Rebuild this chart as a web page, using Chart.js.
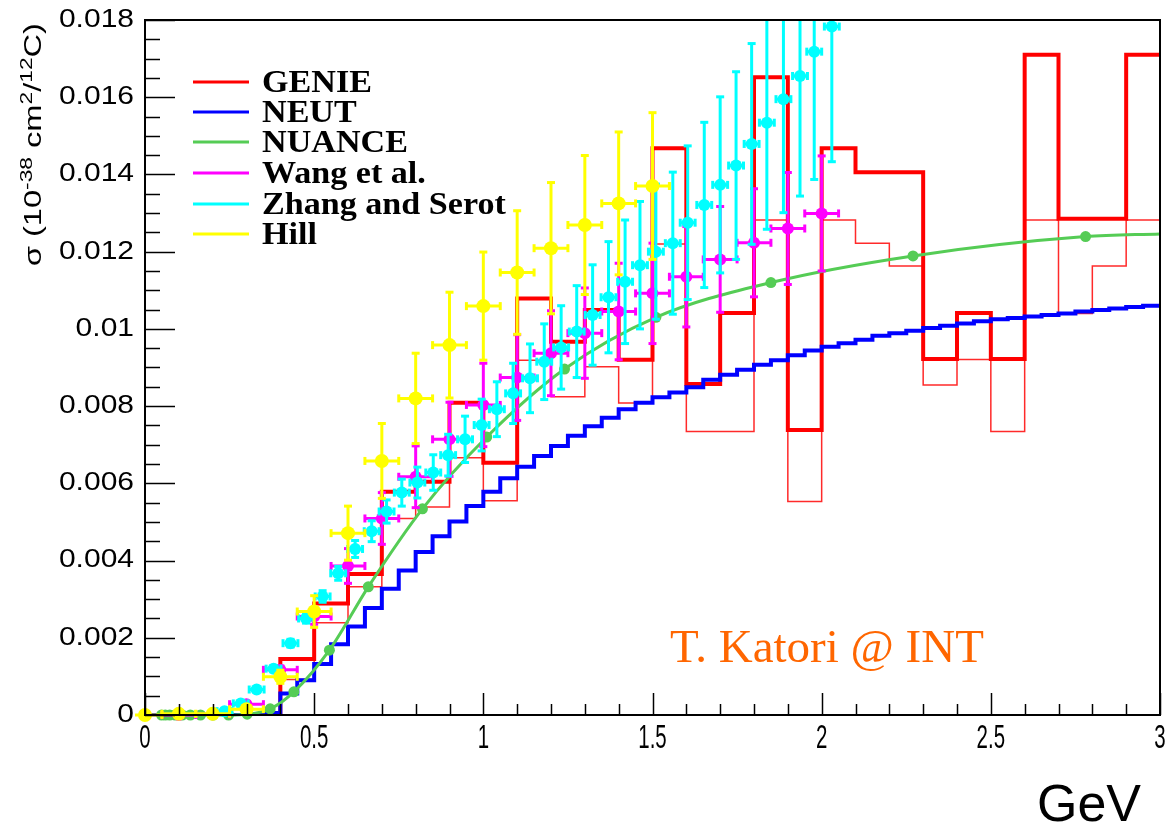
<!DOCTYPE html>
<html>
<head>
<meta charset="utf-8">
<script src="https://cdn.jsdelivr.net/npm/chart.js@4.4.1/dist/chart.umd.min.js"></script>
<style>
  html, body { margin: 0; padding: 0; background: #fff; }
  canvas { display: block; }
</style>
</head>
<body>
<canvas id="xsec" width="1170" height="829"></canvas>
<script>
// Cross sections are listed in units of 0.001 x 10^-38 cm^2 per 12C; energies in GeV.

// GENIE histograms, 0.1 GeV bins (thick and thin versions)
const genieEdges = [0,0.1,0.2,0.3,0.4,0.5,0.6,0.7,0.8,0.9,1.0,1.1,1.2,1.3,1.4,1.5,
                    1.6,1.7,1.8,1.9,2.0,2.1,2.2,2.3,2.4,2.5,2.6,2.7,2.8,2.9,3.0];
const genieThick = [0,0,0,0,1.45,2.89,3.65,5.78,6.04,8.09,6.53,10.79,9.67,10.49,9.2,14.68,
                    8.57,10.41,16.52,7.38,14.68,14.06,14.06,9.22,10.41,9.22,17.1,12.85,12.85,17.1];
const genieThin  = [0,0,0,0,0.92,2.39,3.32,5.09,5.39,6.66,5.55,9.19,8.24,9.02,8.08,12.2,
                    7.34,7.34,12.82,5.53,12.82,12.22,11.63,8.55,9.21,7.34,12.82,10.4,11.63,12.82];

// NEUT histogram, 0.05 GeV bins
const neutEdges = [0,0.05,0.1,0.15,0.2,0.25,0.3,0.35,0.4,0.45,0.5,0.55,0.6,0.65,0.7,0.75,
                   0.8,0.85,0.9,0.95,1.0,1.05,1.1,1.15,1.2,1.25,1.3,1.35,1.4,1.45,1.5,1.55,
                   1.6,1.65,1.7,1.75,1.8,1.85,1.9,1.95,2.0,2.05,2.1,2.15,2.2,2.25,2.3,2.35,
                   2.4,2.45,2.5,2.55,2.6,2.65,2.7,2.75,2.8,2.85,2.9,2.95,3.0];
const neutSigma = [0,0,0,0,0,0,0,0.05,0.56,0.9,1.32,1.83,2.29,2.77,3.27,3.74,
                   4.22,4.63,5.01,5.41,5.78,6.13,6.43,6.71,6.97,7.23,7.48,7.70,7.92,8.09,8.23,8.35,
                   8.49,8.68,8.81,8.94,9.07,9.19,9.32,9.44,9.54,9.63,9.72,9.82,9.89,9.95,10.02,10.08,
                   10.14,10.20,10.25,10.28,10.32,10.36,10.40,10.45,10.49,10.53,10.57,10.60];

// NUANCE curve (markers on all points but the last)
const nuanceE     = [0.049,0.06,0.073,0.089,0.11,0.134,0.164,0.201,0.247,0.302,0.37,0.44,
                     0.545,0.66,0.82,1.01,1.24,1.51,1.85,2.27,2.78,3.0];
const nuanceSigma = [0,0,0,0,0,0,0,0,0,0.02,0.16,0.6,1.68,3.32,5.34,7.2,8.96,10.3,11.2,11.89,12.39,12.46];

// Wang et al.
const wangE     = [0.1,0.2,0.3,0.4,0.5,0.6,0.7,0.8,0.9,1.0,1.1,1.2,1.3,1.4,1.5,1.6,1.7,1.8,1.9,2.0];
const wangSigma = [0,0.02,0.28,1.17,2.55,3.86,5.09,6.17,7.14,8.03,8.74,9.37,9.89,10.45,10.92,11.35,11.8,12.23,12.6,12.99];
const wangErr   = [0,0,0.05,0.1,0.2,0.45,0.67,0.8,0.96,1.08,1.11,1.1,1.17,1.25,1.3,1.3,1.37,1.4,1.45,1.49];
const wangEErr  = 0.05;

// Zhang and Serot
const zhangE     = [0.235,0.283,0.33,0.38,0.43,0.476,0.525,0.571,0.621,0.67,0.714,0.759,0.805,0.852,0.896,
                    0.946,0.995,1.04,1.088,1.138,1.18,1.23,1.276,1.323,1.37,1.419,1.463,1.51,1.56,1.604,
                    1.653,1.70,1.747,1.793,1.838,1.887,1.936,1.978,2.03];
const zhangSigma = [0.1,0.3,0.66,1.2,1.86,2.5,3.07,3.67,4.3,4.76,5.27,5.76,6.02,6.28,6.73,
                    7.14,7.51,7.92,8.33,8.72,9.15,9.52,9.93,10.36,10.82,11.22,11.65,12.0,12.22,12.75,
                    13.21,13.73,14.23,14.79,15.34,15.95,16.55,17.18,17.83];
const zhangErr   = [0.02,0.04,0.06,0.08,0.1,0.12,0.15,0.18,0.22,0.27,0.3,0.35,0.4,0.46,0.54,
                    0.6,0.67,0.71,0.78,0.89,0.98,1.08,1.19,1.3,1.44,1.6,1.65,1.75,1.84,1.99,
                    2.14,2.28,2.43,2.6,2.76,2.94,3.11,3.31,3.5];
const zhangEErr  = 0.022;

// Hill
const hillE     = [0,0.1,0.2,0.3,0.4,0.5,0.6,0.7,0.8,0.9,1.0,1.1,1.2,1.3,1.4,1.5];
const hillSigma = [0,0.03,0.03,0.15,0.99,2.68,4.71,6.58,8.2,9.58,10.59,11.46,12.09,12.69,13.25,13.7];
const hillErr   = [0.02,0.02,0.03,0.06,0.17,0.41,0.7,0.97,1.17,1.37,1.4,1.6,1.7,1.8,1.85,1.9];
const hillEErr  = 0.05;

// axis ranges and tick spacing
const xRange = [0, 3], xMajor = 0.5, xMinor = 0.1;
const yRange = [0, 0.018], yMajor = 0.002, yMinor = 0.0005;

const UNIT = 1e-3;

// ---- helpers ----
function histPoints(edges, vals) {
  const pts = vals.map((v, i) => ({ x: edges[i], y: v * UNIT }));
  pts.push({ x: edges[edges.length - 1], y: vals[vals.length - 1] * UNIT });
  return pts;
}
function points(es, vals) {
  return es.map((e, i) => ({ x: e, y: vals[i] * UNIT }));
}
function fmt(v) {
  return String(Number(v.toFixed(4)));
}

const SANS = '"Liberation Sans", Arial, Helvetica, sans-serif';
const SERIF = '"Liberation Serif", "Times New Roman", serif';

// error bars drawn just beneath each dataset's markers
const errorBars = {
  id: 'errorBars',
  beforeDatasetDraw(chart, args) {
    const ds = chart.data.datasets[args.index];
    if (!ds.errorBars) return;
    const { ctx, chartArea: a, scales: { x, y } } = chart;
    ctx.save();
    ctx.beginPath();
    ctx.rect(a.left - 10, a.top, a.right - a.left + 20, a.bottom - a.top + 12);
    ctx.clip();
    ctx.strokeStyle = ds.backgroundColor;
    ctx.lineWidth = 3;
    ctx.lineCap = 'butt';
    const cap = 4;
    const seg = (x0, y0, x1, y1) => { ctx.beginPath(); ctx.moveTo(x0, y0); ctx.lineTo(x1, y1); ctx.stroke(); };
    ds.data.forEach((p, i) => {
      const px = x.getPixelForValue(p.x), py = y.getPixelForValue(p.y);
      const ey = ds.errorBars.y[i] * UNIT, ex = ds.errorBars.x;
      if (ey > 0) {
        const yTop = y.getPixelForValue(p.y + ey), yBot = y.getPixelForValue(p.y - ey);
        seg(px, yBot, px, yTop);
        seg(px - cap, yTop, px + cap, yTop);
        seg(px - cap, yBot, px + cap, yBot);
      }
      if (ex > 0) {
        const xL = x.getPixelForValue(p.x - ex), xR = x.getPixelForValue(p.x + ex);
        seg(xL, py, xR, py);
        seg(xL, py - cap, xL, py + cap);
        seg(xR, py - cap, xR, py + cap);
      }
    });
    ctx.restore();
  }
};

// frame, inward ticks, tick labels, axis titles, legend and note
const decorations = {
  id: 'decorations',
  afterDatasetsDraw(chart) {
    const { ctx, chartArea: a, scales: { x, y } } = chart;
    ctx.save();
    // frame
    ctx.strokeStyle = '#000';
    ctx.lineWidth = 2;
    ctx.strokeRect(a.left, a.top, a.right - a.left, a.bottom - a.top);

    // y ticks
    ctx.lineWidth = 1.5;
    const nY = Math.round((yRange[1] - yRange[0]) / yMinor);
    for (let k = 0; k <= nY; k++) {
      const v = yRange[0] + k * yMinor;
      const py = Math.round(y.getPixelForValue(v)) + 0.5;
      const len = (k % Math.round(yMajor / yMinor) === 0) ? 30 : 15;
      ctx.beginPath(); ctx.moveTo(a.left, py); ctx.lineTo(a.left + len, py); ctx.stroke();
    }
    // x ticks
    const nX = Math.round((xRange[1] - xRange[0]) / xMinor);
    for (let k = 0; k <= nX; k++) {
      const v = xRange[0] + k * xMinor;
      const px = Math.round(x.getPixelForValue(v)) + 0.5;
      const len = (k % Math.round(xMajor / xMinor) === 0) ? 22 : 11;
      ctx.beginPath(); ctx.moveTo(px, a.bottom); ctx.lineTo(px, a.bottom - len); ctx.stroke();
    }

    // tick labels
    ctx.fillStyle = '#000';
    ctx.textBaseline = 'middle';
    ctx.textAlign = 'right';
    y.ticks.forEach(t => {
      const py = y.getPixelForValue(t.value);
      ctx.save();
      ctx.translate(a.left - 11, py);
      ctx.scale(1.2, 1);
      ctx.font = '25px ' + SANS;
      ctx.fillText(fmt(t.value), 0, 0);
      ctx.restore();
    });
    ctx.textAlign = 'center';
    ctx.textBaseline = 'alphabetic';
    x.ticks.forEach(t => {
      const px = x.getPixelForValue(t.value);
      ctx.save();
      ctx.translate(px, a.bottom + 33);
      ctx.scale(0.62, 1);
      ctx.font = '33px ' + SANS;
      ctx.fillText(fmt(t.value), 0, 0);
      ctx.restore();
    });

    // x title
    ctx.font = '52px ' + SANS;
    ctx.textAlign = 'right';
    ctx.fillText('GeV', 1141, 821);

    // y title with superscripts, rotated
    const parts = [['σ (10', 0], ['-38', 1], [' cm', 0], ['2', 1], ['/', 0], ['12', 1], ['C)', 0]];
    const big = '23px ' + SANS, small = '16px ' + SANS;
    let total = 0;
    parts.forEach(([s, sup]) => { ctx.font = sup ? small : big; total += ctx.measureText(s).width; });
    const stretch = 1.42;
    ctx.save();
    ctx.translate(41, a.top + 3);
    ctx.rotate(-Math.PI / 2);
    ctx.scale(stretch, 1);
    ctx.textAlign = 'left';
    let cx = -total;
    parts.forEach(([s, sup]) => {
      ctx.font = sup ? small : big;
      ctx.fillText(s, cx, sup ? -9 : 0);
      cx += ctx.measureText(s).width;
    });
    ctx.restore();

    // legend
    const rows = chart.data.datasets.filter(d => d.inLegend);
    const rowY = [82, 112, 142, 173, 204, 234];
    ctx.font = 'bold 31px ' + SERIF;
    ctx.textAlign = 'left';
    ctx.textBaseline = 'middle';
    rows.forEach((d, i) => {
      const ly = rowY[i];
      ctx.strokeStyle = d.legendColor;
      ctx.lineWidth = 3;
      ctx.beginPath(); ctx.moveTo(193, ly); ctx.lineTo(249, ly); ctx.stroke();
      ctx.save();
      ctx.translate(262, ly + 2);
      ctx.scale(1.1, 1);
      ctx.fillStyle = '#000';
      ctx.fillText(d.label, 0, 0);
      ctx.restore();
    });

    // note
    ctx.font = '47px ' + SERIF;
    ctx.fillStyle = '#ff6600';
    ctx.textBaseline = 'alphabetic';
    ctx.fillText('T. Katori @ INT', 670, 662);
    ctx.restore();
  }
};

const lineBase = { type: 'line', fill: false, pointRadius: 0, borderJoinStyle: 'miter', borderCapStyle: 'butt' };

new Chart(document.getElementById('xsec'), {
  data: {
    datasets: [
      Object.assign({}, lineBase, {
        label: 'GENIE', inLegend: true, legendColor: '#ff0000',
        data: histPoints(genieEdges, genieThick), stepped: 'before',
        borderColor: '#ff0000', borderWidth: 4, order: 20
      }),
      Object.assign({}, lineBase, {
        label: 'GENIE (thin)', inLegend: false,
        data: histPoints(genieEdges, genieThin), stepped: 'before',
        borderColor: '#ff2a2a', borderWidth: 1.5, order: 21
      }),
      Object.assign({}, lineBase, {
        label: 'NEUT', inLegend: true, legendColor: '#0000ff',
        data: histPoints(neutEdges, neutSigma), stepped: 'before',
        borderColor: '#0000ff', borderWidth: 4, order: 19
      }),
      Object.assign({}, lineBase, {
        label: 'NUANCE', inLegend: true, legendColor: '#55cc55',
        data: points(nuanceE, nuanceSigma), cubicInterpolationMode: 'monotone',
        borderColor: '#55cc55', borderWidth: 3, clip: false,
        pointRadius: c => (c.dataIndex < nuanceE.length - 1 ? 5.5 : 0),
        pointBackgroundColor: '#55cc55', pointBorderWidth: 0, order: 18
      }),
      {
        type: 'scatter', label: 'Wang et al.', inLegend: true, legendColor: '#ff00ff',
        data: points(wangE, wangSigma), errorBars: { x: wangEErr, y: wangErr },
        backgroundColor: '#ff00ff', borderColor: '#ff00ff', pointRadius: 6, pointBorderWidth: 0,
        clip: false, order: 17
      },
      {
        type: 'scatter', label: 'Zhang and Serot', inLegend: true, legendColor: '#00ffff',
        data: points(zhangE, zhangSigma), errorBars: { x: zhangEErr, y: zhangErr },
        backgroundColor: '#00ffff', borderColor: '#00ffff', pointRadius: 6, pointBorderWidth: 0,
        clip: false, order: 16
      },
      {
        type: 'scatter', label: 'Hill', inLegend: true, legendColor: '#ffff00',
        data: points(hillE, hillSigma), errorBars: { x: hillEErr, y: hillErr },
        backgroundColor: '#ffff00', borderColor: '#ffff00', pointRadius: 7, pointBorderWidth: 0,
        clip: false, order: 15
      }
    ]
  },
  options: {
    responsive: false,
    animation: false,
    devicePixelRatio: 1,
    layout: { padding: { top: 20, right: 10, left: 0, bottom: 0 } },
    plugins: { legend: { display: false }, tooltip: { enabled: false } },
    scales: {
      x: {
        type: 'linear', min: xRange[0], max: xRange[1],
        ticks: { stepSize: xMajor, display: false },
        grid: { display: false, drawTicks: false }, border: { display: false },
        afterFit: s => { s.height = 114; }
      },
      y: {
        type: 'linear', min: yRange[0], max: yRange[1],
        ticks: { stepSize: yMajor, display: false },
        grid: { display: false, drawTicks: false }, border: { display: false },
        afterFit: s => { s.width = 145; }
      }
    }
  },
  plugins: [errorBars, decorations]
});
</script>
</body>
</html>
